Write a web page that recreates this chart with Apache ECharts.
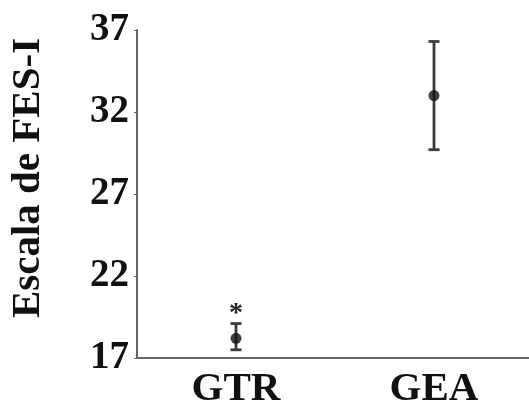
<!DOCTYPE html>
<html><head><meta charset="utf-8">
<script src="https://cdn.jsdelivr.net/npm/echarts@6/dist/echarts.min.js"></script>
<style>html,body{margin:0;padding:0;background:#fff}#c{width:529px;height:405px}</style>
</head><body><div id="c"></div>
<script>
const categories = ['GTR', 'GEA'];
const means = [18.2, 33.0];
const lows = [17.5, 29.7];
const highs = [19.1, 36.3];
const marks = ['*', ''];
const yTicks = [17, 22, 27, 32, 37];

const chart = echarts.init(document.getElementById('c'));
const font = '"Liberation Serif", "Times New Roman", serif';
chart.setOption({
  animation: false,
  grid: { left: 137, right: -4, top: 30, bottom: 47, containLabel: false, outerBoundsMode: 'none' },
  xAxis: {
    type: 'category', data: categories,
    axisLine: { lineStyle: { color: '#666', width: 2 } },
    axisTick: { alignWithLabel: true, length: 3, lineStyle: { color: '#555' } },
    axisLabel: { fontFamily: font, fontWeight: 'bold', fontSize: 41, color: '#111', margin: 11 }
  },
  yAxis: {
    type: 'value', min: yTicks[0], max: yTicks[yTicks.length - 1], interval: 5,
    name: 'Escala de FES-I', nameLocation: 'middle', nameGap: 88, nameRotate: 90,
    nameTextStyle: { fontFamily: font, fontWeight: 'bold', fontSize: 41, color: '#111', padding: [0, 0, 0, 32] },
    splitLine: { show: false },
    axisLine: { show: true, lineStyle: { color: '#666', width: 2 } },
    axisTick: { show: true, length: 3, lineStyle: { color: '#666' } },
    axisLabel: { fontFamily: font, fontWeight: 'bold', fontSize: 39, color: '#111', margin: 8 }
  },
  series: [
    {
      type: 'custom',
      data: categories.map((c, i) => [i, lows[i], highs[i]]),
      renderItem: function (params, api) {
        const i = api.value(0);
        const lo = api.coord([i, api.value(1)]);
        const hi = api.coord([i, api.value(2)]);
        const hw = 5.5;
        const st = { stroke: '#3a3a3a', lineWidth: 2.8 };
        const children = [
          { type: 'line', shape: { x1: lo[0], y1: lo[1], x2: hi[0], y2: hi[1] }, style: st },
          { type: 'line', shape: { x1: lo[0] - hw, y1: lo[1], x2: lo[0] + hw, y2: lo[1] }, style: st },
          { type: 'line', shape: { x1: hi[0] - hw, y1: hi[1], x2: hi[0] + hw, y2: hi[1] }, style: st }
        ];
        if (marks[params.dataIndex]) {
          children.push({ type: 'text', style: { text: marks[params.dataIndex], x: hi[0], y: hi[1] + 4, align: 'center', verticalAlign: 'bottom', font: 'bold 28px ' + font, fill: '#222' } });
        }
        return { type: 'group', children: children };
      },
      z: 2
    },
    {
      type: 'scatter',
      data: means.map((m, i) => [i, m]),
      symbol: 'circle', symbolSize: 11,
      itemStyle: { color: '#111' },
      z: 3
    }
  ]
});
</script></body></html>
